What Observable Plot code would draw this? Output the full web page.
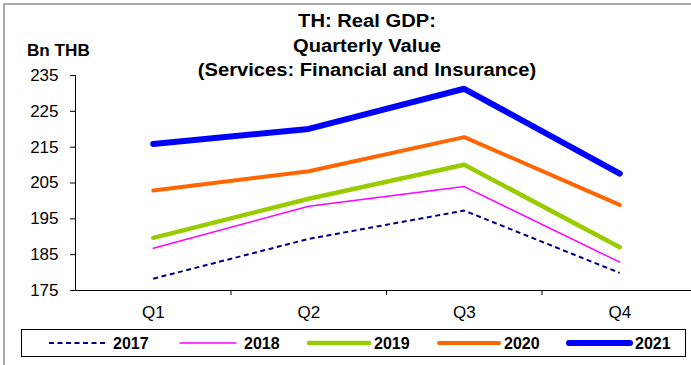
<!DOCTYPE html>
<html>
<head>
<meta charset="utf-8">
<script src="https://cdn.jsdelivr.net/npm/d3@7"></script>
<script src="https://cdn.jsdelivr.net/npm/@observablehq/plot@0.6"></script>
<style>
  html, body { margin: 0; padding: 0; background: #fff; }
  #wrap { position: relative; width: 691px; height: 365px; overflow: hidden; font-family: "Liberation Sans", Arial, sans-serif; color: #000; }
  #border { position: absolute; left: 3px; top: 3px; width: 700px; height: 400px; border-left: 2px solid #aaa; border-top: 2px solid #aaa; }
  #title { position: absolute; left: 167px; width: 400px; top: 9px; text-align: center; font-weight: bold; font-size: 18px; line-height: 24.5px; transform: scaleX(1.12); transform-origin: 200px 0; white-space: nowrap; }
  #unit { position: absolute; left: 27px; top: 42px; font-weight: bold; font-size: 16px; transform: scaleX(1.07); transform-origin: 0 0; white-space: nowrap; }
  #chart { position: absolute; left: 0; top: 0; }
  #legend { position: absolute; left: 21px; top: 329px; width: 663px; height: 26px; border: 1px solid #000; background: #fff; }
</style>
</head>
<body>
<div id="wrap">
  <div id="border"></div>
  <div id="chart"></div>
  <div id="title">TH: Real GDP:<br>Quarterly Value<br>(Services: Financial and Insurance)</div>
  <div id="unit">Bn THB</div>
  <div id="legend"></div>
</div>
<script>
const quarters = ["Q1", "Q2", "Q3", "Q4"];
const years = ["2017", "2018", "2019", "2020", "2021"];
const v2017 = [178.3, 189.4, 197.3, 179.9];
const v2018 = [186.8, 198.5, 204.0, 182.9];
const v2019 = [189.7, 200.6, 210.1, 187.1];
const v2020 = [202.9, 208.3, 217.8, 198.9];
const v2021 = [215.9, 220.1, 231.3, 207.6];
const yTicks = [175, 185, 195, 205, 215, 225, 235];

const seriesValues = [v2017, v2018, v2019, v2020, v2021];
const styles = [
  {color: "#000080", width: 2, dash: "5,3.5", cap: "butt"},
  {color: "#ff00ff", width: 1.5, dash: null, cap: "round"},
  {color: "#99cc00", width: 4.5, dash: null, cap: "round"},
  {color: "#ff6600", width: 4, dash: null, cap: "round"},
  {color: "#0000ff", width: 6, dash: null, cap: "round"}
];

const rows = [];
years.forEach((yr, s) => quarters.forEach((q, i) => rows.push({year: yr, qi: i + 0.5, value: seriesValues[s][i]})));

const lineMarks = years.map((yr, s) => Plot.line(rows.filter(r => r.year === yr), {
  x: "qi", y: "value",
  stroke: styles[s].color, strokeWidth: styles[s].width,
  strokeDasharray: styles[s].dash, strokeLinecap: styles[s].cap, strokeLinejoin: "miter"
}));

const chart = Plot.plot({
  width: 691, height: 365,
  marginLeft: 75, marginTop: 75, marginBottom: 75, marginRight: 0,
  style: {fontFamily: "'Liberation Sans', Arial, sans-serif", fontSize: "17px", color: "#000", background: "transparent", overflow: "visible"},
  x: {type: "linear", domain: [0, 4], range: [75, 697]},
  y: {domain: [175, 235], range: [290, 75]},
  marks: [
    Plot.axisY({ticks: yTicks, tickSize: 5, tickPadding: 12, tickFormat: d => String(d), fontSize: 17, label: null}),
    Plot.axisX({ticks: [1, 2, 3], tickSize: 5, tickFormat: () => "", label: null}),
    Plot.axisX({ticks: quarters.map((q, i) => i + 0.5), tickSize: 0, tickPadding: 15, tickFormat: d => quarters[Math.floor(d)], fontSize: 17, label: null}),
    Plot.ruleX([0], {stroke: "#000", strokeWidth: 1}),
    Plot.ruleY([175], {stroke: "#000", strokeWidth: 1}),
    ...lineMarks
  ]
});
document.getElementById("chart").appendChild(chart);

// legend
const legX = [[27, 85, 91], [158, 214, 222], [287, 347, 352], [417, 477, 482], [547, 608, 613]];
const ns = "http://www.w3.org/2000/svg";
const lsvg = document.createElementNS(ns, "svg");
lsvg.setAttribute("width", 663); lsvg.setAttribute("height", 26);
lsvg.style.fontFamily = "'Liberation Sans', Arial, sans-serif";
years.forEach((yr, s) => {
  const st = styles[s];
  const ln = document.createElementNS(ns, "line");
  ln.setAttribute("x1", legX[s][0]); ln.setAttribute("x2", legX[s][1]);
  ln.setAttribute("y1", 13); ln.setAttribute("y2", 13);
  ln.setAttribute("stroke", st.color); ln.setAttribute("stroke-width", st.width);
  ln.setAttribute("stroke-linecap", st.cap);
  if (st.dash) ln.setAttribute("stroke-dasharray", st.dash);
  lsvg.appendChild(ln);
  const t = document.createElementNS(ns, "text");
  t.setAttribute("x", legX[s][2]); t.setAttribute("y", 19);
  t.setAttribute("font-size", 16); t.setAttribute("font-weight", "bold");
  t.textContent = yr;
  lsvg.appendChild(t);
});
document.getElementById("legend").appendChild(lsvg);
</script>
</body>
</html>
